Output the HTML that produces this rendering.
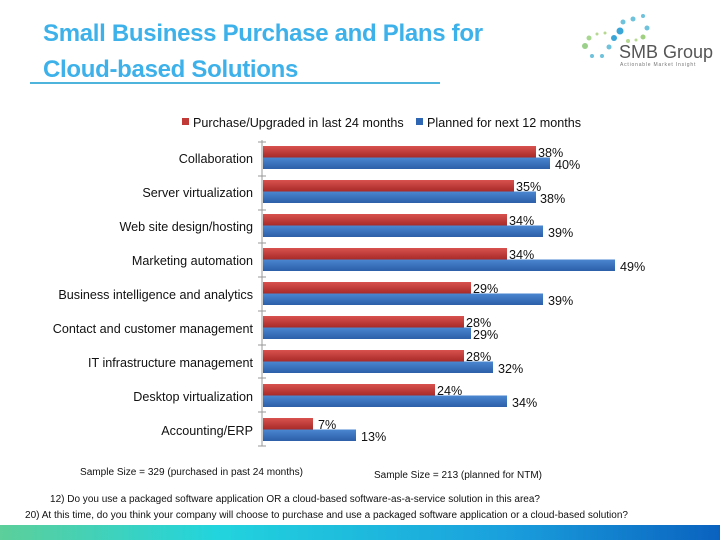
<!DOCTYPE html>
<html><head><meta charset="utf-8"><style>
body{margin:0;width:720px;height:540px;background:#fff;overflow:hidden;position:relative;font-family:"Liberation Sans",sans-serif}
.t{position:absolute;left:43px;top:16px;font-size:24px;font-weight:bold;color:#3db1ea;line-height:36px;letter-spacing:-0.3px}
</style></head><body>
<div class="t">Small Business Purchase and Plans for<br>Cloud-based Solutions</div>
<div style="position:absolute;left:30px;top:82px;width:410px;height:2px;background:#4fb4dc"></div>
<svg width="720" height="540" style="position:absolute;left:0;top:0" font-family="Liberation Sans, sans-serif">
<defs>
<linearGradient id="r" x1="0" y1="0" x2="0" y2="1"><stop offset="0" stop-color="#d8524f"/><stop offset="1" stop-color="#a82a28"/></linearGradient>
<linearGradient id="b" x1="0" y1="0" x2="0" y2="1"><stop offset="0" stop-color="#4a86d0"/><stop offset="1" stop-color="#2c5fa8"/></linearGradient>
<linearGradient id="band" x1="0" y1="0" x2="1" y2="0"><stop offset="0" stop-color="#5ccf9a"/><stop offset="0.3" stop-color="#22d4dd"/><stop offset="0.7" stop-color="#1aa0dd"/><stop offset="1" stop-color="#0a62bf"/></linearGradient>
</defs>
<g fill="#6ec2dc">
<circle cx="633" cy="19" r="2.5"/><circle cx="643" cy="16" r="2"/><circle cx="623" cy="22" r="2.5"/><circle cx="620" cy="31" r="3.5" fill="#3aa6d8"/><circle cx="647" cy="28" r="2.5"/><circle cx="614" cy="38" r="3" fill="#3aa6d8"/><circle cx="643" cy="37" r="2.5" fill="#9fd080"/><circle cx="628" cy="41" r="2" fill="#b6d890"/><circle cx="609" cy="47" r="2.5"/><circle cx="589" cy="38" r="2.5" fill="#a8d890"/><circle cx="585" cy="46" r="3" fill="#9ad08a"/><circle cx="597" cy="34" r="1.5" fill="#b6d890"/><circle cx="605" cy="33" r="1.5" fill="#b6d890"/><circle cx="592" cy="56" r="2"/><circle cx="602" cy="56" r="2"/><circle cx="636" cy="40" r="1.5" fill="#b6d890"/>
</g>
<text x="619" y="58" font-size="18" fill="#555">SMB Group</text>
<text x="620" y="66" font-size="5" fill="#777" letter-spacing="0.8">Actionable Market Insight</text>
<rect x="182" y="118" width="7" height="7" fill="#c23a37"/>
<text x="193" y="127" font-size="12.6" fill="#111">Purchase/Upgraded in last 24 months</text>
<rect x="416" y="118" width="7" height="7" fill="#2f66b3"/>
<text x="427" y="127" font-size="12.6" fill="#111">Planned for next 12 months</text>
<line x1="262" y1="140" x2="262" y2="446" stroke="#999"/>
<g stroke="#999"><line x1="258" y1="142" x2="266" y2="142"/><line x1="258" y1="176" x2="266" y2="176"/><line x1="258" y1="210" x2="266" y2="210"/><line x1="258" y1="243" x2="266" y2="243"/><line x1="258" y1="277" x2="266" y2="277"/><line x1="258" y1="311" x2="266" y2="311"/><line x1="258" y1="345" x2="266" y2="345"/><line x1="258" y1="378" x2="266" y2="378"/><line x1="258" y1="412" x2="266" y2="412"/><line x1="258" y1="446" x2="266" y2="446"/></g>
</svg>
<svg width="720" height="540" style="position:absolute;left:0;top:0" font-family="Liberation Sans, sans-serif" font-size="12.6" fill="#111">
<g>
<text x="253" y="163" text-anchor="end">Collaboration</text>
<rect x="263" y="146" width="273" height="11.5" fill="url(#r)"/><rect x="263" y="157.5" width="287" height="11.5" fill="url(#b)"/>
<text x="538" y="157">38%</text><text x="555" y="169">40%</text>

<text x="253" y="197" text-anchor="end">Server virtualization</text>
<rect x="263" y="180" width="251" height="11.5" fill="url(#r)"/><rect x="263" y="191.5" width="273" height="11.5" fill="url(#b)"/>
<text x="516" y="191">35%</text><text x="540" y="203">38%</text>

<text x="253" y="231" text-anchor="end">Web site design/hosting</text>
<rect x="263" y="214" width="244" height="11.5" fill="url(#r)"/><rect x="263" y="225.5" width="280" height="11.5" fill="url(#b)"/>
<text x="509" y="225">34%</text><text x="548" y="237">39%</text>

<text x="253" y="265" text-anchor="end">Marketing automation</text>
<rect x="263" y="248" width="244" height="11.5" fill="url(#r)"/><rect x="263" y="259.5" width="352" height="11.5" fill="url(#b)"/>
<text x="509" y="259">34%</text><text x="620" y="271">49%</text>

<text x="253" y="299" text-anchor="end">Business intelligence and analytics</text>
<rect x="263" y="282" width="208" height="11.5" fill="url(#r)"/><rect x="263" y="293.5" width="280" height="11.5" fill="url(#b)"/>
<text x="473" y="293">29%</text><text x="548" y="305">39%</text>

<text x="253" y="333" text-anchor="end">Contact and customer management</text>
<rect x="263" y="316" width="201" height="11.5" fill="url(#r)"/><rect x="263" y="327.5" width="208" height="11.5" fill="url(#b)"/>
<text x="466" y="327">28%</text><text x="473" y="339">29%</text>

<text x="253" y="367" text-anchor="end">IT infrastructure management</text>
<rect x="263" y="350" width="201" height="11.5" fill="url(#r)"/><rect x="263" y="361.5" width="230" height="11.5" fill="url(#b)"/>
<text x="466" y="361">28%</text><text x="498" y="373">32%</text>

<text x="253" y="401" text-anchor="end">Desktop virtualization</text>
<rect x="263" y="384" width="172" height="11.5" fill="url(#r)"/><rect x="263" y="395.5" width="244" height="11.5" fill="url(#b)"/>
<text x="437" y="395">24%</text><text x="512" y="407">34%</text>

<text x="253" y="435" text-anchor="end">Accounting/ERP</text>
<rect x="263" y="418" width="50" height="11.5" fill="url(#r)"/><rect x="263" y="429.5" width="93" height="11.5" fill="url(#b)"/>
<text x="318" y="429">7%</text><text x="361" y="441">13%</text>
</g>
<g font-size="9.9">
<text x="80" y="475" textLength="223" lengthAdjust="spacingAndGlyphs">Sample Size = 329 (purchased in past 24 months)</text>
<text x="374" y="478" textLength="168" lengthAdjust="spacingAndGlyphs">Sample Size = 213 (planned for NTM)</text>
<text x="50" y="502" textLength="490" lengthAdjust="spacingAndGlyphs">12) Do you use a packaged software application OR a cloud-based software-as-a-service solution in this area?</text>
<text x="25" y="518" textLength="603" lengthAdjust="spacingAndGlyphs">20) At this time, do you think your company will choose to purchase and use a packaged software application or a cloud-based solution?</text>
</g>
<rect x="0" y="525" width="720" height="15" fill="url(#band)"/>
</svg>
</body></html>
